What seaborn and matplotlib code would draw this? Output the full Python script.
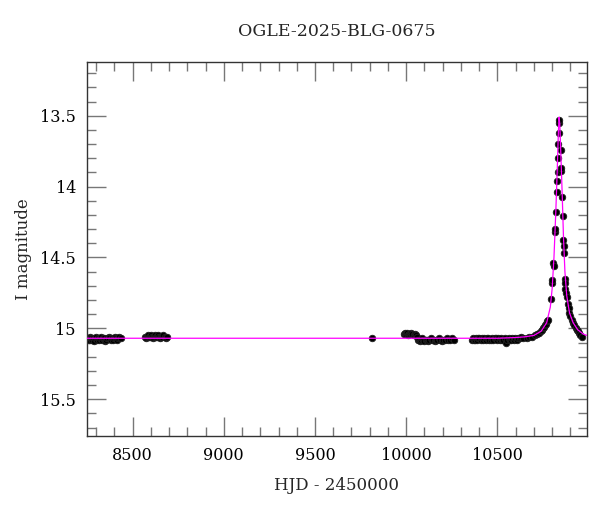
import numpy as np
import pandas as pd
import matplotlib
matplotlib.use('Agg')
import matplotlib.pyplot as plt
import seaborn as sns
from matplotlib.ticker import MultipleLocator, FuncFormatter

s1_hjd = [8256, 8261, 8266, 8272, 8277, 8283, 8288, 8294, 8299, 8305, 8311, 8316,
          8322, 8328, 8333, 8339, 8345, 8350, 8356, 8362, 8368, 8373, 8379, 8385,
          8391, 8397, 8403, 8409, 8415, 8421, 8428, 8435]
s1_mag = [15.07, 15.08, 15.06, 15.07, 15.08, 15.07, 15.09, 15.07, 15.06, 15.08, 15.07, 15.08,
          15.07, 15.06, 15.08, 15.07, 15.07, 15.09, 15.08, 15.07, 15.06, 15.07, 15.08, 15.07,
          15.08, 15.07, 15.06, 15.07, 15.08, 15.07, 15.06, 15.07]

s2_hjd = [8568, 8573, 8578, 8584, 8589, 8594, 8600, 8606, 8611, 8617, 8622, 8628,
          8634, 8640, 8645, 8651, 8657, 8663, 8669, 8675, 8681, 8687]
s2_mag = [15.06, 15.07, 15.06, 15.05, 15.06, 15.06, 15.05, 15.06, 15.07, 15.06, 15.05, 15.06,
          15.06, 15.05, 15.06, 15.07, 15.06, 15.06, 15.05, 15.06, 15.07, 15.06]

s_lone_hjd = [9810]
s_lone_mag = [15.07]

s3_hjd = [9986, 9991, 9996, 10001, 10006, 10012, 10017, 10023, 10028, 10034, 10040, 10046,
          10052, 10058, 10064, 10070, 10076, 10082, 10088, 10094, 10100, 10107, 10113, 10120,
          10127, 10134, 10141, 10148, 10156, 10163, 10171, 10179, 10187, 10195, 10203, 10212,
          10221, 10230, 10240, 10250, 10260]
s3_mag = [15.04, 15.03, 15.04, 15.04, 15.03, 15.05, 15.04, 15.04, 15.03, 15.04, 15.05, 15.04,
          15.05, 15.06, 15.08, 15.08, 15.09, 15.08, 15.07, 15.08, 15.09, 15.08, 15.08, 15.09,
          15.08, 15.07, 15.08, 15.08, 15.09, 15.08, 15.08, 15.07, 15.08, 15.09, 15.08, 15.08,
          15.07, 15.08, 15.08, 15.07, 15.08]

s4_hjd = [10358, 10364, 10370, 10376, 10382, 10389, 10395, 10401, 10408, 10414, 10421, 10428,
          10435, 10442, 10449, 10456, 10463, 10470, 10477, 10484, 10491, 10498, 10505, 10512,
          10519, 10526, 10533, 10540, 10547, 10554, 10561, 10568, 10575, 10582, 10590, 10598,
          10606, 10614, 10622, 10630, 10638]
s4_mag = [15.08, 15.07, 15.08, 15.08, 15.07, 15.08, 15.07, 15.07, 15.08, 15.07, 15.08, 15.07,
          15.08, 15.07, 15.07, 15.08, 15.08, 15.07, 15.08, 15.07, 15.07, 15.08, 15.07, 15.08,
          15.07, 15.08, 15.08, 15.07, 15.10, 15.08, 15.07, 15.08, 15.08, 15.07, 15.08, 15.07,
          15.08, 15.07, 15.07, 15.06, 15.07]

event_hjd = [10660, 10675, 10690, 10705, 10718, 10730, 10738, 10745, 10752, 10758, 10763, 10767,
             10772, 10776, 10795, 10800, 10801, 10807, 10808, 10814, 10815, 10822, 10825, 10827,
             10831, 10833, 10834, 10835, 10839, 10840, 10847, 10849, 10850, 10855, 10858, 10862,
             10863, 10864, 10871, 10872, 10873, 10876, 10880, 10885, 10890, 10894, 10900, 10909,
             10915, 10920, 10929, 10935, 10940, 10945, 10955, 10965]
event_mag = [15.07, 15.06, 15.06, 15.05, 15.04, 15.03, 15.02, 15.01, 15.00, 14.99, 14.98, 14.97,
             14.95, 14.94, 14.79, 14.68, 14.66, 14.54, 14.56, 14.32, 14.30, 14.18, 14.04, 13.96,
             13.90, 13.80, 13.70, 13.62, 13.55, 13.53, 13.74, 13.89, 13.87, 14.07, 14.21, 14.38,
             14.42, 14.47, 14.65, 14.68, 14.72, 14.75, 14.78, 14.83, 14.86, 14.89, 14.91, 14.94,
             14.96, 14.98, 15.00, 15.01, 15.02, 15.03, 15.05, 15.06]

# Model light curve
model_hjd = [8250, 9000, 10000, 10500, 10600, 10650, 10700, 10740, 10770, 10790, 10800, 10810,
             10820, 10828, 10834, 10838, 10842, 10848, 10855, 10862, 10870, 10880, 10895, 10915,
             10940, 10970, 10990]
model_mag = [15.07, 15.07, 15.07, 15.07, 15.065, 15.06, 15.05, 15.02, 14.96, 14.85, 14.72, 14.50,
             14.18, 13.88, 13.62, 13.51, 13.56, 13.78, 14.05, 14.35, 14.60, 14.77, 14.89, 14.96,
             15.01, 15.04, 15.05]

obs = pd.DataFrame({
    'hjd': s1_hjd + s2_hjd + s_lone_hjd + s3_hjd + s4_hjd + event_hjd,
    'mag': s1_mag + s2_mag + s_lone_mag + s3_mag + s4_mag + event_mag,
})
model = pd.DataFrame({'hjd': model_hjd, 'mag': model_mag})

sns.set_theme(style='ticks')
plt.rcParams['font.family'] = ['DejaVu Serif']

fig = plt.figure(figsize=(6, 5.12), dpi=100)
ax = fig.add_axes([0.145, 0.1484, 0.833, 0.7306])

sns.scatterplot(data=obs, x='hjd', y='mag', ax=ax, color='black', edgecolor='#222222',
                s=22, linewidth=0.6, zorder=2)
sns.lineplot(data=model, x='hjd', y='mag', ax=ax, color='#ff00ff', linewidth=0.9,
             sort=False, zorder=3)

ax.set_xlim(8250, 10990)
ax.set_ylim(15.76, 13.12)

ax.xaxis.set_major_locator(MultipleLocator(500))
ax.xaxis.set_minor_locator(MultipleLocator(100))
ax.yaxis.set_major_locator(MultipleLocator(0.5))
ax.yaxis.set_minor_locator(MultipleLocator(0.1))
ax.yaxis.set_major_formatter(FuncFormatter(lambda v, p: f'{v:g}'))

ax.tick_params(which='both', direction='in', top=True, right=True, color='#777777',
               labelsize=11.5, labelcolor='black', width=1.0)
ax.tick_params(which='major', length=13.5, pad=8)
ax.tick_params(which='minor', length=6.5)
for sp in ax.spines.values():
    sp.set_color('#333333')
    sp.set_linewidth(1.0)

ax.set_xlabel('HJD - 2450000', fontsize=12, labelpad=9)
ax.set_ylabel('I magnitude', fontsize=12, labelpad=6)
ax.set_title('OGLE-2025-BLG-0675', fontsize=12.5, pad=19)

fig.savefig('out.png', dpi=100)
